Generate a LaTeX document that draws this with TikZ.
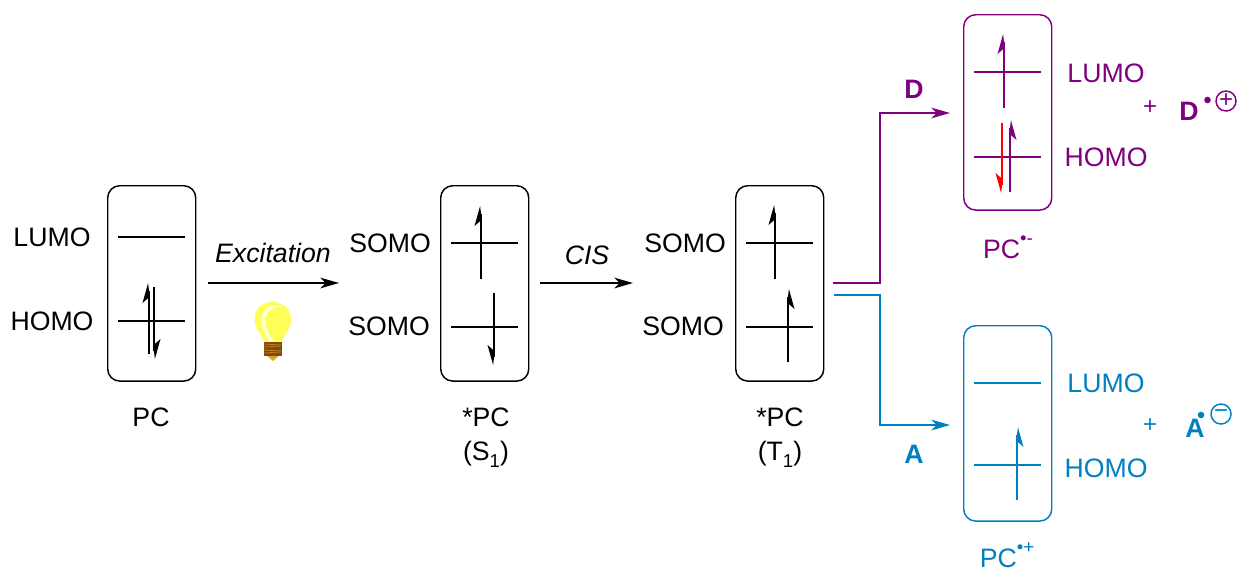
\documentclass[tikz,border=0pt]{standalone}
\usepackage{fontspec}
\setmainfont{Liberation Sans}
\usetikzlibrary{arrows.meta}
\definecolor{pur}{HTML}{800080}
\definecolor{blu}{HTML}{0080C0}
\newcommand{\spinarrow}[5]{% x, tail y, tip y, barb side (+1/-1), colour
  \pgfmathsetmacro{\dirn}{(#3<#2)?1:-1}
  \draw[#5,line width=1.5pt] (#1,#2) -- (#1,#3+\dirn*8);
  \fill[#5] (#1+#4*0.9,#3) -- (#1+#4*6.5,#3+\dirn*20) -- (#1+#4*0.8,#3+\dirn*15) -- (#1-#4*0.9,#3+\dirn*15) -- cycle;
}
\newcommand{\szsub}[1]{\raisebox{-0.28em}{\fontsize{14}{14}\selectfont #1}}
\newcommand{\szsup}[1]{\raisebox{0.52em}{\fontsize{14}{14}\selectfont #1}}
\tikzset{
  x=0.75pt,y=-0.75pt,
  mobox/.style={draw,line width=1.1pt,rounded corners=9pt,minimum width=66pt,minimum height=146.5pt,inner sep=0,anchor=north west},
  lev/.style={line width=1.4pt},
  txt/.style={font=\fontsize{20}{24}\selectfont,inner sep=0,anchor=base},
  btxt/.style={font=\fontsize{20}{24}\selectfont\bfseries,inner sep=0,anchor=base},
  pls/.style={font=\fontsize{18}{18}\selectfont,inner sep=0,anchor=base},
  chg/.style={draw,circle,line width=1.1pt,minimum size=15pt,inner sep=0,font=\fontsize{18}{18}\selectfont},
  conn/.style={line width=1.5pt,-{Stealth[length=14pt,width=8pt,inset=4pt]}},
}
\begin{document}
\begin{tikzpicture}
\useasboundingbox (0,0) rectangle (1237,572);
% boxes
\node[mobox] (b1) at (107,185) {};
\node[mobox] (b2) at (440,185) {};
\node[mobox] (b3) at (735,185) {};
\node[mobox,draw=pur] (b4) at (963,14) {};
\node[mobox,draw=blu] (b5) at (963,325) {};
% box 1
\draw[lev] (118,237) -- (185,237);
\draw[lev] (118,321) -- (185,321);
\spinarrow{149}{354}{283}{-1}{black}
\spinarrow{154}{287}{359}{1}{black}
\node[txt] (t1) at (52,246) {LUMO};
\node[txt] (t2) at (52,330) {HOMO};
\node[txt] (t3) at (151,426) {PC};
% box 2
\draw[lev] (451,243) -- (518,243);
\draw[lev] (451,327) -- (518,327);
\spinarrow{481}{279}{206}{-1}{black}
\spinarrow{494}{293}{365}{-1}{black}
\node[txt] (t4) at (390,252) {SOMO};
\node[txt] (t5) at (389,335) {SOMO};
\node[txt] (t6) at (486,426) {*PC};
\node[txt] (t7) at (486,460) {(S\szsub{1})};
% box 3
\draw[lev] (746,243) -- (813,243);
\draw[lev] (746,327) -- (813,327);
\spinarrow{775}{279}{205}{-1}{black}
\spinarrow{788}{362}{289}{1}{black}
\node[txt] (t8) at (685,252) {SOMO};
\node[txt] (t9) at (683,335) {SOMO};
\node[txt] (t10) at (780,426) {*PC};
\node[txt] (t11) at (780,460) {(T\szsub{1})};
% purple box
\draw[lev,pur] (974,72) -- (1041,72);
\draw[lev,pur] (974,157) -- (1041,157);
\spinarrow{1004}{108}{34}{-1}{pur}
\spinarrow{1002}{123}{193}{-1}{red}
\spinarrow{1010}{192}{120}{1}{pur}
\node[txt,pur] (t12) at (1106,82) {LUMO};
\node[txt,pur] (t13) at (1106,166) {HOMO};
\node[txt,pur] (t14) at (1008,258) {PC\szsup{•-}};
\node[pls,pur] (t15) at (1150,114) {+};
\node[btxt,pur] (t16) at (1189,120) {D};
\fill[pur] (1207.5,100) circle (3.3);
\node[chg,draw=pur,text=pur] (c1) at (1226,101) {+};
% blue box
\draw[lev,blu] (974,383) -- (1041,383);
\draw[lev,blu] (974,465) -- (1041,465);
\spinarrow{1017}{500}{427}{1}{blu}
\node[txt,blu] (t17) at (1106,392) {LUMO};
\node[txt,blu] (t18) at (1106,477) {HOMO};
\node[txt,blu] (t19) at (1007,567.5) {PC\szsup{•+}};
\node[pls,blu] (t20) at (1150,432) {+};
\node[btxt,blu] (t21) at (1195,437) {A};
\fill[blu] (1201,415) circle (3.3);
\node[chg,draw=blu,text=blu] (c2) at (1221,414) {−};
% connectors
\coordinate (e1a) at (208,283);
\coordinate (e1b) at (339,283);
\coordinate (e2a) at (540,283);
\coordinate (e2b) at (633,283);
\coordinate (pa) at (833,283);
\coordinate (pb) at (880,283);
\coordinate (pc) at (880,113);
\coordinate (pd) at (950,113);
\coordinate (ba) at (834,295);
\coordinate (bb) at (880,295);
\coordinate (bc) at (880,425);
\coordinate (bd) at (950,425);
\draw[conn] (e1a) -- (e1b);
\draw[conn] (e2a) -- (e2b);
\draw[conn,pur] (pa) -- (pb) -- (pc) -- (pd);
\draw[conn,blu] (ba) -- (bb) -- (bc) -- (bd);
\node[txt,font=\fontsize{20}{24}\selectfont\itshape] (l1) at (273,262) {Excitation};
\node[txt,font=\fontsize{20}{24}\selectfont\itshape] (l2) at (587,264) {CIS};
\node[btxt,pur] (l3) at (914,98) {D};
\node[btxt,blu] (l4) at (914,463) {A};
% light bulb
\fill[color={rgb,255:red,255;green,255;blue,90}] (254.5,320) .. controls (254,308) and (263,302) .. (273,302) .. controls (284,302) and (291.5,310) .. (291,320)
  .. controls (291,330) and (283,335) .. (281,343) -- (264,343) .. controls (263,335) and (255,330) .. (254.5,320) -- cycle;
\fill[color={rgb,255:red,255;green,255;blue,210}] (270,343) .. controls (262,330) and (258,318) .. (265,310) .. controls (270,305) and (277,304) .. (283,307) .. controls (275,306) and (269,309) .. (266,316) .. controls (264,324) and (268,334) .. (275,343) -- cycle;
\fill[color={rgb,255:red,218;green,165;blue,32}] (265,354) -- (281,354) -- (273,361) -- cycle;
\fill[color={rgb,255:red,125;green,75;blue,15}] (263.5,342) rectangle (281.5,356);
\foreach \yy/\dd in {344/1,347/-1,350/1,353/-1}
  \draw[color={rgb,255:red,190;green,125;blue,30},line width=0.6pt] (264,\yy) -- (281,\yy+\dd);
\end{tikzpicture}
\end{document}
